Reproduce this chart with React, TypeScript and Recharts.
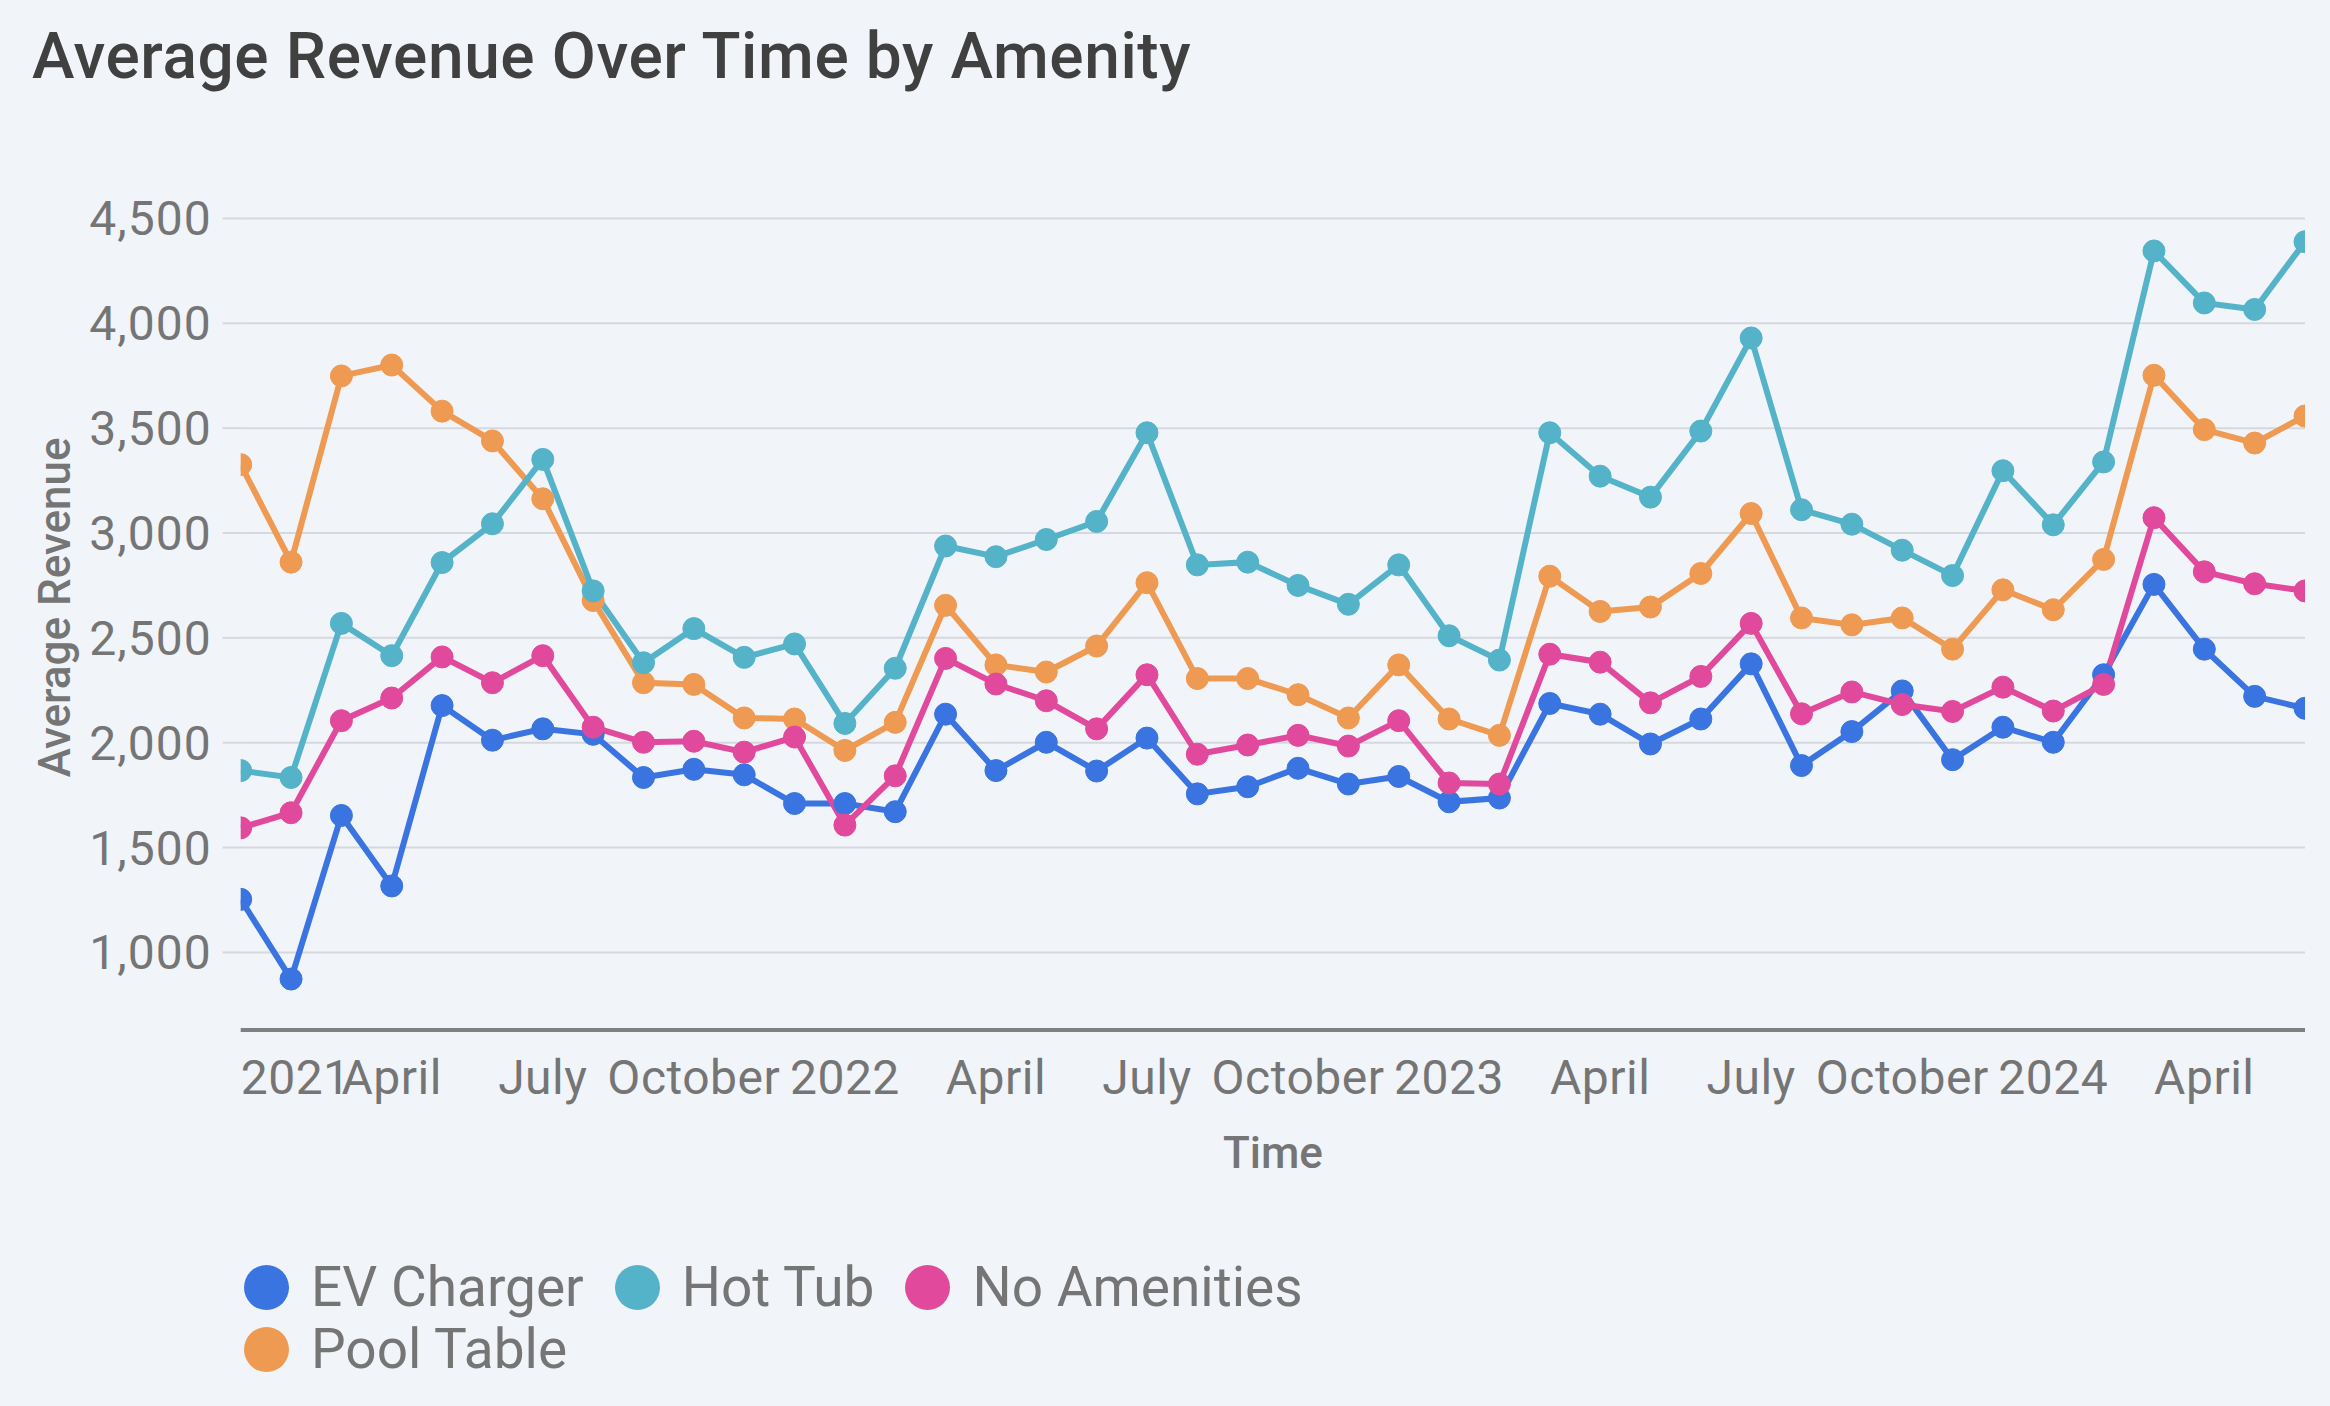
import React from 'react';
import { LineChart, Line, XAxis, YAxis, CartesianGrid, Legend } from 'recharts';

const months = [
  '2021-01', '2021-02', '2021-03', '2021-04', '2021-05', '2021-06', '2021-07', '2021-08', '2021-09', '2021-10', '2021-11', '2021-12',
  '2022-01', '2022-02', '2022-03', '2022-04', '2022-05', '2022-06', '2022-07', '2022-08', '2022-09', '2022-10', '2022-11', '2022-12',
  '2023-01', '2023-02', '2023-03', '2023-04', '2023-05', '2023-06', '2023-07', '2023-08', '2023-09', '2023-10', '2023-11', '2023-12',
  '2024-01', '2024-02', '2024-03', '2024-04', '2024-05', '2024-06',
];

const evCharger = [1253, 873, 1653, 1317, 2177, 2012, 2066, 2040, 1834, 1873, 1847, 1710, 1710, 1671, 2136, 1867, 2002, 1865, 2022, 1756, 1790, 1878, 1803, 1839, 1718, 1736, 2187, 2136, 1994, 2113, 2376, 1891, 2053, 2247, 1919, 2074, 2002, 2324, 2755, 2446, 2221, 2164];
const hotTub = [1867, 1834, 2569, 2415, 2859, 3044, 3351, 2724, 2381, 2544, 2407, 2471, 2092, 2355, 2938, 2887, 2969, 3055, 3478, 2848, 2861, 2750, 2660, 2848, 2510, 2394, 3478, 3271, 3171, 3486, 3930, 3111, 3042, 2918, 2797, 3297, 3039, 3339, 4345, 4097, 4066, 4389];
const noAmenities = [1594, 1666, 2105, 2213, 2409, 2286, 2415, 2074, 2002, 2007, 1955, 2027, 1607, 1842, 2402, 2280, 2200, 2066, 2324, 1945, 1989, 2035, 1984, 2105, 1808, 1803, 2422, 2384, 2190, 2316, 2569, 2138, 2242, 2182, 2149, 2265, 2151, 2278, 3073, 2815, 2758, 2724];
const poolTable = [3326, 2861, 3749, 3801, 3581, 3439, 3163, 2678, 2286, 2278, 2118, 2113, 1963, 2097, 2655, 2371, 2337, 2461, 2763, 2306, 2306, 2229, 2118, 2371, 2113, 2035, 2794, 2626, 2647, 2807, 3093, 2595, 2562, 2595, 2446, 2729, 2634, 2874, 3752, 3493, 3429, 3558];

const tickMonths = ['2021-01', '2021-04', '2021-07', '2021-10', '2022-01', '2022-04', '2022-07', '2022-10', '2023-01', '2023-04', '2023-07', '2023-10', '2024-01', '2024-04'];
const tickLabels = ['2021', 'April', 'July', 'October', '2022', 'April', 'July', 'October', '2023', 'April', 'July', 'October', '2024', 'April'];
const yTicks = [1000, 1500, 2000, 2500, 3000, 3500, 4000, 4500];

const seriesNames = ['EV Charger', 'Hot Tub', 'No Amenities', 'Pool Table'];
const seriesKeys = ['ev', 'hotTub', 'none', 'pool'];
const seriesColors = ['#3a74e0', '#54b3c9', '#e14a9c', '#ef9a52'];

const data = months.map((m, i) => ({
  month: m,
  ev: evCharger[i],
  hotTub: hotTub[i],
  none: noAmenities[i],
  pool: poolTable[i],
}));

const FONT = 'Roboto, sans-serif';
const BG = '#f1f4f9';
const TEXT = '#757575';
const GRID = '#d5d8dd';

const XTick = (props: any) => {
  const { x, y, payload } = props;
  const idx = tickMonths.indexOf(payload.value);
  const label = idx >= 0 ? tickLabels[idx] : '';
  const anchor = idx === 0 ? 'start' : 'middle';
  return (
    <text x={x} y={y} dy={33} textAnchor={anchor} fill={TEXT} fontSize={48} letterSpacing={0.5} fontFamily={FONT}>
      {label}
    </text>
  );
};

const YLabel = (props: any) => {
  const vb = props.viewBox || {};
  const cx = vb.x + 54;
  const cy = vb.y + vb.height / 2 + 4;
  return (
    <text
      x={cx}
      y={cy}
      transform={`rotate(-90 ${cx} ${cy})`}
      textAnchor="middle"
      dominantBaseline="central"
      fill={TEXT}
      fontSize={44}
      fontWeight={500}
      fontFamily={FONT}
    >
      Average Revenue
    </text>
  );
};

const XLabel = (props: any) => {
  const vb = props.viewBox || {};
  return (
    <text
      x={vb.x + vb.width / 2}
      y={vb.y + 138}
      textAnchor="middle"
      fill={TEXT}
      fontSize={44}
      fontWeight={500}
      fontFamily={FONT}
    >
      Time
    </text>
  );
};

const LegendContent = () => (
  <div style={{ display: 'flex', flexWrap: 'wrap', width: 1400, fontFamily: FONT }}>
    {seriesNames.map((name, i) => (
      <div key={name} style={{ display: 'flex', alignItems: 'center', height: 62, marginRight: 31 }}>
        <span
          style={{
            display: 'inline-block',
            width: 45,
            height: 45,
            borderRadius: '50%',
            background: seriesColors[i],
            marginRight: 22,
          }}
        />
        <span style={{ fontSize: 55, lineHeight: '62px', color: TEXT }}>{name}</span>
      </div>
    ))}
  </div>
);

const renderOrder = [0, 3, 1, 2];

export default function App() {
  return (
    <div style={{ position: 'absolute', left: 0, top: 0, width: 2330, height: 1406, background: BG, overflow: 'hidden' }}>
      <div
        style={{
          position: 'absolute',
          left: 32,
          top: 25,
          fontFamily: FONT,
          fontSize: 64,
          fontWeight: 500,
          letterSpacing: 0.6,
          lineHeight: 1,
          color: '#404040',
          whiteSpace: 'nowrap',
        }}
      >
        Average Revenue Over Time by Amenity
      </div>
      <div style={{ position: 'absolute', left: 0, top: 0 }}>
        <LineChart
          width={2330}
          height={1406}
          data={data}
          margin={{ top: 176.5, right: 25, bottom: 92, left: 0.7 }}
        >
          <CartesianGrid horizontal vertical={false} horizontalValues={yTicks} stroke={GRID} strokeWidth={2} />
          <XAxis
            dataKey="month"
            ticks={tickMonths}
            interval={0}
            allowDataOverflow
            tick={<XTick />}
            tickSize={0}
            tickMargin={31}
            tickLine={false}
            axisLine={{ stroke: '#808080', strokeWidth: 4 }}
            height={160}
            label={<XLabel />}
          />
          <YAxis
            type="number"
            domain={[630, 4700]}
            allowDataOverflow
            ticks={yTicks}
            width={240}
            tickSize={18}
            tickMargin={11}
            tickLine={{ stroke: GRID, strokeWidth: 2 }}
            axisLine={false}
            tick={{ fill: TEXT, fontSize: 48, letterSpacing: 1, fontFamily: FONT }}
            tickFormatter={(v: number) => v.toLocaleString('en-US')}
            label={<YLabel />}
          />
          <Legend
            verticalAlign="bottom"
            content={<LegendContent />}
            wrapperStyle={{ left: 244, top: 1256, bottom: 'auto', width: 1400, height: 124 }}
          />
          {renderOrder.map((si) => (
            <Line
              key={seriesKeys[si]}
              type="linear"
              dataKey={seriesKeys[si]}
              name={seriesNames[si]}
              stroke={seriesColors[si]}
              strokeWidth={6}
              dot={{ r: 11, fill: seriesColors[si], stroke: seriesColors[si], strokeWidth: 1 }}
              activeDot={false}
              isAnimationActive={false}
            />
          ))}
        </LineChart>
      </div>
    </div>
  );
}
